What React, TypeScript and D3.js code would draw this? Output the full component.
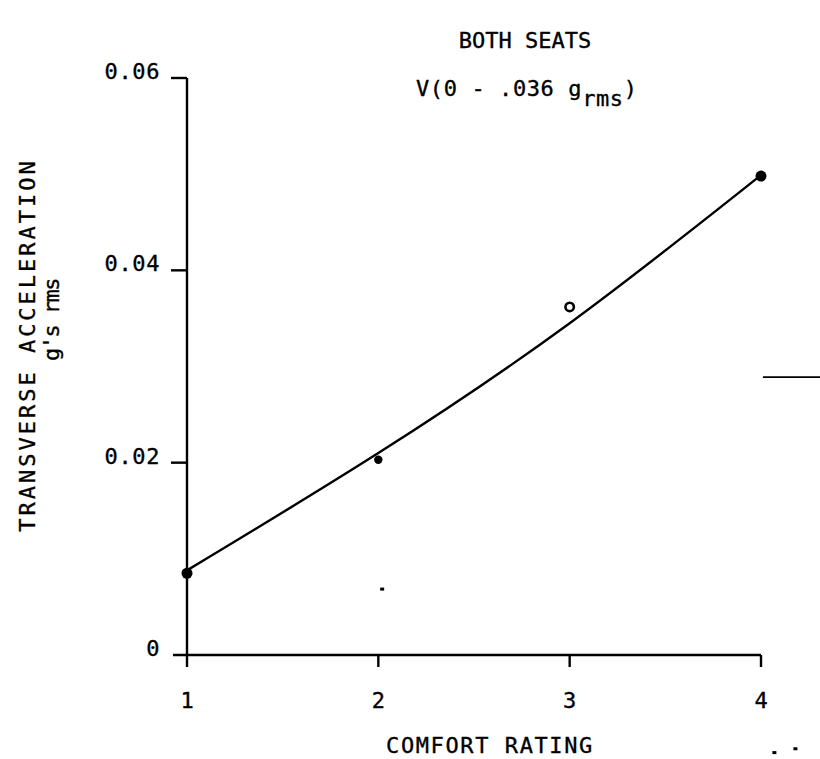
import React from 'react';
import * as d3 from 'd3';

// comfort rating vs transverse acceleration (both seats)
const ratings = [1, 2, 3, 4];
const measured = [0.0085, 0.0203, 0.0362, 0.0498];
const fitted = [0.0088, 0.021, 0.0345, 0.0499];
const yTicks = [0, 0.02, 0.04, 0.06];
const yTickLabels = ['0', '0.02', '0.04', '0.06'];
const xTickLabels = ['1', '2', '3', '4'];
// scan specks, in data units
const specks = [
  { x: 2.02, y: 0.0068 },
  { x: -0.25, y: 0.0595 },
  { x: 4.18, y: -0.0098 },
  { x: 4.07, y: -0.0102 },
];

const W = 820;
const H = 759;
const FONT = '"DejaVu Sans Mono", monospace';
const FS = 22;

export default function App() {
  const x = d3.scaleLinear().domain([1, 4]).range([187, 761]);
  const y = d3.scaleLinear().domain([0, 0.06]).range([655, 78]);

  const line = d3
    .line<number>()
    .x((_, i) => x(ratings[i]))
    .y((d) => y(d))
    .curve(d3.curveNatural);

  const x0 = x(1);
  const y0 = y(0);

  return (
    <svg
      width={W}
      height={H}
      style={{ position: 'absolute', left: 0, top: 0, background: '#fff' }}
      fontFamily={FONT}
      fontSize={FS}
    >
      <g stroke="#000" strokeWidth={0.35} fill="#000">
        {/* titles */}
        <text x={525} y={48} textAnchor="middle" letterSpacing={0}>
          BOTH SEATS
        </text>
        <text x={416} y={96} letterSpacing={0.6}>
          V(0 - .036 g
          <tspan dy={10}>rms</tspan>
          <tspan dy={-10}>)</tspan>
        </text>

        {yTicks.map((t, i) => (
          <text key={t} x={x0 - 27} y={y(t) + 1} textAnchor="end" letterSpacing={0.6}>
            {yTickLabels[i]}
          </text>
        ))}
        {ratings.map((r, i) => (
          <text key={r} x={x(r)} y={708} textAnchor="middle">
            {xTickLabels[i]}
          </text>
        ))}

        <text x={490} y={753} textAnchor="middle" letterSpacing={1.6}>
          COMFORT RATING
        </text>
        <text
          transform={`translate(35,${345}) rotate(-90)`}
          textAnchor="middle"
          letterSpacing={3}
        >
          TRANSVERSE ACCELERATION
        </text>
        <text
          transform={`translate(59,${320}) rotate(-90)`}
          textAnchor="middle"
          letterSpacing={-1.5}
        >
          g's rms
        </text>
      </g>

      {/* axes */}
      <g stroke="#000" strokeWidth={2.4} fill="none">
        <line x1={x0} x2={x0} y1={y(0.06)} y2={y0 + 12} />
        <line x1={x0 - 14} x2={x(4)} y1={y0} y2={y0} />
        {yTicks.slice(1).map((t) => (
          <line key={t} x1={x0 - 16} x2={x0} y1={y(t)} y2={y(t)} />
        ))}
        {ratings.slice(1).map((r) => (
          <line key={r} x1={x(r)} x2={x(r)} y1={y0} y2={y0 + 12} />
        ))}
      </g>

      {/* fitted curve */}
      <path d={line(fitted) || ''} fill="none" stroke="#000" strokeWidth={2.4} />

      {/* measured points */}
      <circle cx={x(ratings[0])} cy={y(measured[0])} r={5.5} fill="#000" />
      <circle cx={x(ratings[1])} cy={y(measured[1])} r={4.2} fill="#000" />
      <circle cx={x(ratings[2])} cy={y(measured[2])} r={4.2} fill="#fff" stroke="#000" strokeWidth={2.6} />
      <circle cx={x(ratings[3])} cy={y(measured[3])} r={5.5} fill="#000" />

      {/* stray marks from the scan */}
      <line x1={x(4.01)} x2={W} y1={y(0.0289)} y2={y(0.0289)} stroke="#000" strokeWidth={1.6} />
      {specks.map((s, i) => (
        <rect key={i} x={x(s.x) - 2} y={y(s.y) - 2} width={4} height={3} fill="#000" />
      ))}
    </svg>
  );
}
